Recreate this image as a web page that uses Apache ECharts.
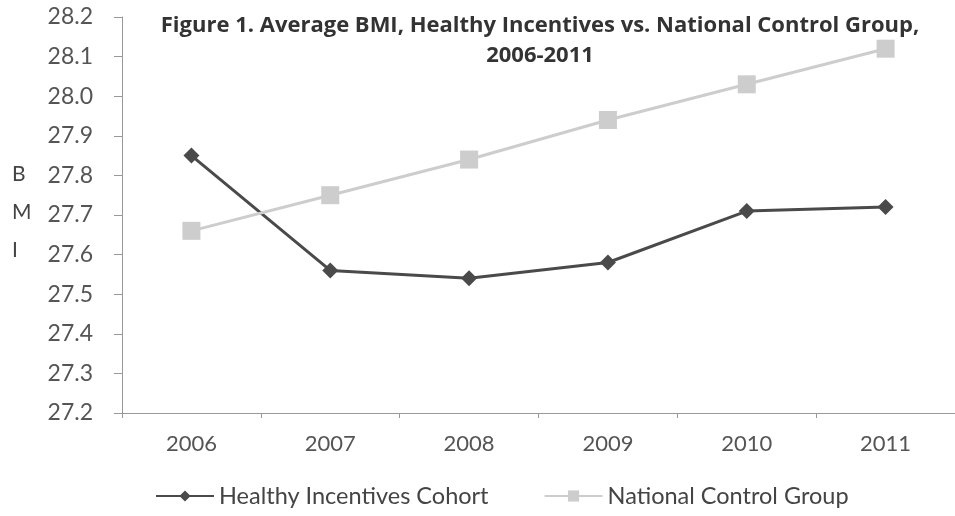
<!DOCTYPE html>
<html><head><meta charset="utf-8">
<script src="https://cdn.jsdelivr.net/npm/echarts@6/dist/echarts.min.js"></script>
<style>html,body{margin:0;padding:0;background:#fff}#c{width:955px;height:516px}</style>
</head><body><div id="c"></div>
<script>
const years = ['2006','2007','2008','2009','2010','2011'];
const healthyIncentives = [27.85, 27.56, 27.54, 27.58, 27.71, 27.72];
const nationalControl = [27.66, 27.75, 27.84, 27.94, 28.03, 28.12];
const yTicks = [27.2, 28.2, 0.1];
const titleLines = ['Figure 1. Average BMI, Healthy Incentives vs. National Control Group,', '2006-2011'];
const yAxisName = ['B', 'M', 'I'];

const font = 'Lato, "Open Sans", sans-serif';
const chart = echarts.init(document.getElementById('c'));
chart.setOption({
  backgroundColor: '#fff',
  animation: false,
  title: {
    text: titleLines.join('\n'),
    left: 535, top: 6, textAlign: 'center',
    textStyle: {fontFamily: '"Open Sans", sans-serif', fontSize: 22, fontWeight: 'bold', color: '#333', lineHeight: 30}
  },
  graphic: yAxisName.map((t, i) => ({
    type: 'text', left: 12, top: 164 + i * 38,
    style: {text: t, fontFamily: font, fontSize: 21, fill: '#444'}
  })),
  legend: {
    top: 479, left: 150, itemGap: 55, itemWidth: 58, itemHeight: 14,
    textStyle: {fontFamily: font, fontSize: 23.5, color: '#444'},
    data: ['Healthy Incentives Cohort', 'National Control Group']
  },
  grid: {left: 122, top: 17, right: -43, bottom: 103},
  xAxis: {
    type: 'category', data: years, boundaryGap: true,
    axisLine: {lineStyle: {color: '#999', width: 1}},
    axisTick: {show: true, length: 5, lineStyle: {color: '#999'}},
    axisLabel: {fontFamily: font, fontSize: 22, color: '#555', margin: 20}
  },
  yAxis: {
    type: 'value', min: yTicks[0], max: yTicks[1], interval: yTicks[2],
    axisLine: {show: true, lineStyle: {color: '#999', width: 1}},
    axisTick: {show: true, length: 8, lineStyle: {color: '#999'}},
    splitLine: {show: false},
    axisLabel: {fontFamily: font, fontSize: 23, color: '#555', margin: 29, formatter: v => v.toFixed(1)}
  },
  series: [
    {name: 'Healthy Incentives Cohort', type: 'line', data: healthyIncentives,
     symbol: 'diamond', symbolSize: 16,
     lineStyle: {color: '#4a4a4a', width: 3}, itemStyle: {color: '#4a4a4a'}},
    {name: 'National Control Group', type: 'line', data: nationalControl,
     symbol: 'rect', symbolSize: 18,
     lineStyle: {color: '#cdcdcd', width: 3}, itemStyle: {color: '#cdcdcd'}}
  ]
});
</script></body></html>
